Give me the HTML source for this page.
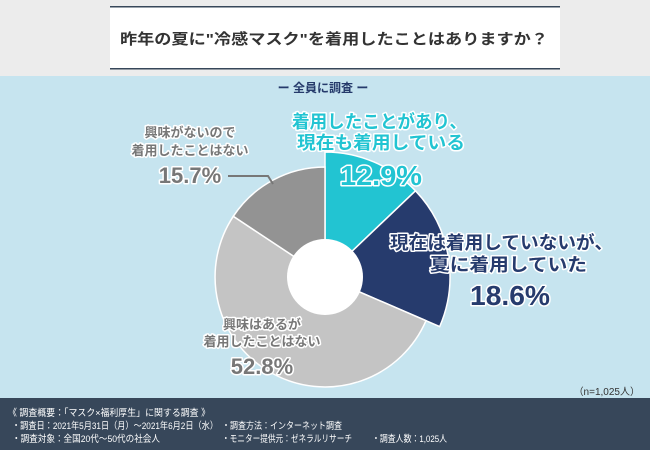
<!DOCTYPE html><html><head><meta charset="utf-8"><style>
body{margin:0;width:650px;height:450px;overflow:hidden;background:#ececec;font-family:"Liberation Sans","Noto Sans CJK JP",sans-serif}
</style></head><body>
<svg width="650" height="450" viewBox="0 0 650 450" xmlns="http://www.w3.org/2000/svg" style="position:absolute;left:0;top:0;font-family:'Liberation Sans','Noto Sans CJK JP',sans-serif">
<rect width="650" height="76" fill="#ececec"/>
<rect x="110" y="6" width="450" height="63" fill="#fff"/>
<rect x="110" y="6" width="450" height="1.5" fill="#37475a"/>
<rect x="110" y="68" width="450" height="1.5" fill="#37475a"/>
<text x="120" y="44" font-size="15" font-weight="bold" fill="#333" textLength="428" lengthAdjust="spacingAndGlyphs">昨年の夏に"冷感マスク"を着用したことはありますか？</text>
<rect y="76" width="650" height="322" fill="#c6e4ef"/>
<text x="323" y="92" font-size="12" font-weight="bold" fill="#253a6b" text-anchor="middle">ー 全員に調査 ー</text>
<g stroke="#fff" stroke-width="1.5">
<path d="M325,277 L325,152 A125,125 0 0 1 415.5,190.8 Z" fill="#22c4d2"/>
<path d="M325,277 L415.5,190.8 A125,125 0 0 1 439.7,326.6 Z" fill="#263b6d"/>
<path d="M325,277 L426,320.7 A110,110 0 1 1 233.3,216.3 Z" fill="#c4c4c4"/>
<path d="M325,277 L233.3,216.3 A110,110 0 0 1 325,167 Z" fill="#939393"/>
</g>
<circle cx="325" cy="277" r="38" fill="#fff"/>
<polyline points="228,176 268,176 273,184" fill="none" stroke="#777" stroke-width="2"/>
<g font-weight="bold" stroke="#fff" stroke-width="3" paint-order="stroke" stroke-linejoin="round">
<text x="292" y="128" font-size="18" fill="#22c4d2" textLength="175" lengthAdjust="spacingAndGlyphs">着用したことがあり、</text>
<text x="297" y="149" font-size="18" fill="#22c4d2" textLength="168" lengthAdjust="spacingAndGlyphs">現在も着用している</text>
<text x="340" y="185" font-size="28" fill="#22c4d2" textLength="82" lengthAdjust="spacingAndGlyphs">12.9%</text>
<text x="390" y="249" font-size="18" fill="#263b6d" textLength="223" lengthAdjust="spacingAndGlyphs">現在は着用していないが、</text>
<text x="430" y="271" font-size="18" fill="#263b6d" textLength="157" lengthAdjust="spacingAndGlyphs">夏に着用していた</text>
<text x="470" y="305" font-size="28" fill="#263b6d" textLength="80" lengthAdjust="spacingAndGlyphs">18.6%</text>
<text x="190" y="137" font-size="13" fill="#777" text-anchor="middle">興味がないので</text>
<text x="190" y="155" font-size="13" fill="#777" text-anchor="middle">着用したことはない</text>
<text x="190" y="183" font-size="22" fill="#777" text-anchor="middle">15.7%</text>
<text x="262" y="329" font-size="13" fill="#777" text-anchor="middle">興味はあるが</text>
<text x="262" y="346" font-size="13" fill="#777" text-anchor="middle">着用したことはない</text>
<text x="262" y="374" font-size="22" fill="#777" text-anchor="middle">52.8%</text>
</g>
<text x="640" y="395" font-size="10" fill="#333" text-anchor="end">（n=1,025人）</text>
<rect y="398" width="650" height="52" fill="#37475a"/>
<g font-size="9.5" fill="#fff">
<text x="8" y="416" textLength="202" lengthAdjust="spacingAndGlyphs">《 調査概要：「マスク×福利厚生」に関する調査 》</text>
<text x="12" y="429" textLength="206" lengthAdjust="spacingAndGlyphs">・調査日：2021年5月31日（月）～2021年6月2日（水）</text>
<text x="222" y="429" textLength="120" lengthAdjust="spacingAndGlyphs">・調査方法：インターネット調査</text>
<text x="12" y="442" textLength="148" lengthAdjust="spacingAndGlyphs">・調査対象：全国20代～50代の社会人</text>
<text x="222" y="442" textLength="130" lengthAdjust="spacingAndGlyphs">・モニター提供元：ゼネラルリサーチ</text>
<text x="372" y="442" textLength="75" lengthAdjust="spacingAndGlyphs">・調査人数：1,025人</text>
</g>
</svg>
</body></html>
